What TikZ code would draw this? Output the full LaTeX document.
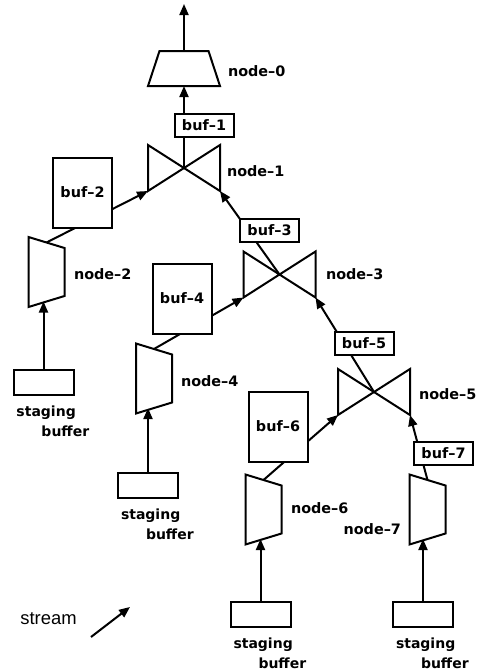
\documentclass[tikz,border=0pt]{standalone}
\usepackage{fontspec}
\setmainfont{DejaVu Sans}
\newfontfamily\streamfont{Liberation Sans}
\usetikzlibrary{arrows.meta}
\pgfdeclarelayer{background}
\pgfsetlayers{background,main}
\tikzset{
  buffer/.style   ={rectangle,draw,fill=white,minimum width=29.5pt,
                    minimum height=11.5pt,inner sep=0pt,
                    font=\fontsize{7.2}{8.5}\selectfont\bfseries},
  bigbuffer/.style={buffer,minimum height=35pt},
  stage/.style    ={rectangle,draw,fill=white,minimum width=30pt,
                    minimum height=12.5pt,inner sep=0pt},
  merge/.style    ={rectangle,minimum width=36pt,minimum height=23pt,
                    inner sep=0pt,outer sep=0pt},
  feed/.style     ={rectangle,minimum width=18pt,minimum height=35pt,
                    inner sep=0pt,outer sep=0pt},
  outnode/.style  ={rectangle,minimum width=36pt,minimum height=17.5pt,
                    inner sep=0pt,outer sep=0pt},
  lbl/.style      ={inner sep=0pt,font=\fontsize{7.2}{8.5}\selectfont\bfseries},
  stagelbl/.style ={inner sep=0pt,align=left,anchor=north west,
                    xshift=1.5pt,yshift=-4.5pt,
                    font=\fontsize{7}{10}\selectfont\bfseries},
  arr/.style      ={-{Triangle[length=5.5pt,width=4.5pt]},line width=1pt}
}

\begin{document}
\begin{tikzpicture}[x=0.5pt,y=-0.5pt,line width=1pt]
  \useasboundingbox (0,0) rectangle (478,670);

  % Output stage
  \node (n0) at (184,68.5) [outnode] {};
  \coordinate (out) at (184,4);
  \filldraw[fill=white] ([xshift=5.75pt]n0.north west)
    -- ([xshift=-5.75pt]n0.north east) -- (n0.south east)
    -- (n0.south west) -- cycle;

  % Merge nodes
  \node (n1) at (184,168)     [merge] {};
  \node (n3) at (279.5,274.5) [merge] {};
  \node (n5) at (374,392)     [merge] {};
  \foreach \n in {n1,n3,n5}
    \draw (\n.north west) -- (\n.south east) -- (\n.north east)
      -- (\n.south west) -- cycle;

  % Input nodes
  \node (n2) at (46.5,272)    [feed] {};
  \node (n4) at (154,378.5)   [feed] {};
  \node (n6) at (263.5,509.5) [feed] {};
  \node (n7) at (427.5,509.5) [feed] {};
  \foreach \n in {n2,n4,n6,n7} {
    \filldraw[fill=white] (\n.north west) -- ([yshift=-5.5pt]\n.north east)
      -- ([yshift=5.5pt]\n.south east) -- (\n.south west) -- cycle;
    \coordinate (\n-top) at ([yshift=-2.75pt]\n.north);
    \coordinate (\n-bot) at ([yshift=2.75pt]\n.south);
  }

  % Buffers
  \node (b1) at (204,125.5)   [buffer]    {buf–1};
  \node (b2) at (82.5,192.5)  [bigbuffer] {buf–2};
  \node (b3) at (269.5,230.5) [buffer]    {buf–3};
  \node (b4) at (182,298.5)   [bigbuffer] {buf–4};
  \node (b5) at (364,343.5)   [buffer]    {buf–5};
  \node (b6) at (278,426.5)   [bigbuffer] {buf–6};
  \node (b7) at (443.5,453.5) [buffer]    {buf–7};

  % Staging buffers
  \node (s2) at (43.5,382.5)  [stage] {};
  \node (s4) at (148,485.5)   [stage] {};
  \node (s6) at (260.5,614.5) [stage] {};
  \node (s7) at (423,614)     [stage] {};
  \foreach \s in {2,4,6,7}
    \node (t\s) at (s\s.south west) [stagelbl] {staging\\\hspace*{12.5pt}buffer};

  % Labels
  \node (l0) at (227,71)  [lbl,anchor=west] {node–0};
  \node (l1) at (226,171) [lbl,anchor=west] {node–1};
  \node (l2) at (73,274)  [lbl,anchor=west] {node–2};
  \node (l3) at (325,274) [lbl,anchor=west] {node–3};
  \node (l4) at (180,381) [lbl,anchor=west] {node–4};
  \node (l5) at (418,394) [lbl,anchor=west] {node–5};
  \node (l6) at (290,508) [lbl,anchor=west] {node–6};
  \node (l7) at (402,529) [lbl,anchor=east] {node–7};

  % Connections
  \begin{pgfonlayer}{background}
    \draw[arr] (n0.north) -- (out);
    \draw[arr] (n1.center) -- (n0.south);
    \draw[arr] (n2-top) -- (n1.south west);
    \draw[arr] (n3.center) -- (n1.south east);
    \draw[arr] (n4-top) -- (n3.south west);
    \draw[arr] (n5.center) -- (n3.south east);
    \draw[arr] (n6-top) -- (n5.south west);
    \draw[arr] (n7-top) -- (n5.south east);
    \foreach \s in {2,4,6,7}
      \draw[arr] (s\s) -- (s\s |- n\s-bot);
  \end{pgfonlayer}

  % Legend
  \node (st) at (20,619) [anchor=west,inner sep=0pt,
    font=\streamfont\fontsize{9.2}{10}\selectfont] {stream};
  \coordinate (st0) at (91,637);
  \coordinate (st1) at (130,607);
  \draw[arr] (st0) -- (st1);
\end{tikzpicture}
\end{document}
